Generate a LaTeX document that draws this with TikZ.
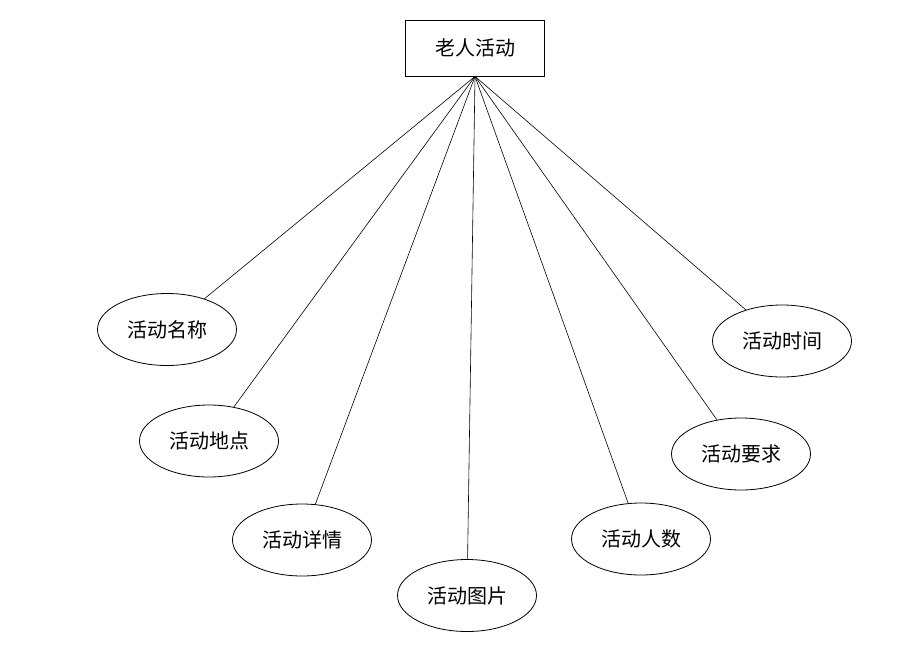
\documentclass[tikz,border=0pt]{standalone}
\usepackage{fontspec}
\newfontfamily\cjk{Noto Sans CJK SC}
\usetikzlibrary{shapes.geometric}
\begin{document}
\begin{tikzpicture}[x=1pt,y=-1pt,
  ent/.style={draw,line width=0.8pt,minimum width=139pt,minimum height=56pt,inner sep=0pt,font=\cjk\fontsize{20}{20}\selectfont},
  attr/.style={draw,ellipse,line width=0.8pt,minimum width=139pt,minimum height=72pt,inner sep=0pt,font=\cjk\fontsize{20}{20}\selectfont},
  link/.style={line width=0.6pt}]
\useasboundingbox (0,0) rectangle (909,645);
\node[ent] (top) at (475,48) {老人活动};
\node[attr] (a1) at (167,329.5) {活动名称};
\node[attr] (a2) at (209,441) {活动地点};
\node[attr] (a3) at (302,540) {活动详情};
\node[attr] (a4) at (467,595.5) {活动图片};
\node[attr] (a5) at (641,539) {活动人数};
\node[attr] (a6) at (741,454) {活动要求};
\node[attr] (a7) at (782,341) {活动时间};
\foreach \n in {a1,a2,a3,a4,a5,a6,a7}{
  \draw[link] (top.south) -- (\n);
}
\end{tikzpicture}
\end{document}
